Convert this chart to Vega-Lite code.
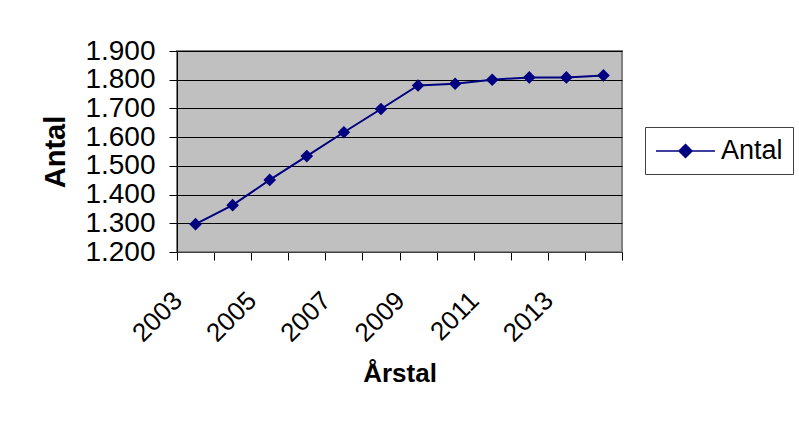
{
  "$schema": "https://vega.github.io/schema/vega-lite/v6.json",
  "width": 445,
  "height": 201,
  "autosize": {"type": "none"},
  "padding": {"left": 177, "top": 51, "right": 177, "bottom": 169},
  "background": "white",
  "config": {
    "font": "Liberation Sans",
    "view": {"fill": "#C0C0C0", "stroke": "#808080", "strokeWidth": 2}
  },
  "data": {
    "values": [
      {"Årstal": 2003, "Antal": 1297},
      {"Årstal": 2004, "Antal": 1363},
      {"Årstal": 2005, "Antal": 1451},
      {"Årstal": 2006, "Antal": 1534},
      {"Årstal": 2007, "Antal": 1617},
      {"Årstal": 2008, "Antal": 1698},
      {"Årstal": 2009, "Antal": 1780},
      {"Årstal": 2010, "Antal": 1786},
      {"Årstal": 2011, "Antal": 1800},
      {"Årstal": 2012, "Antal": 1808},
      {"Årstal": 2013, "Antal": 1808},
      {"Årstal": 2014, "Antal": 1815}
    ]
  },
  "mark": {
    "type": "line",
    "strokeWidth": 2,
    "point": {"shape": "diamond", "size": 160, "filled": true, "opacity": 1}
  },
  "encoding": {
    "x": {
      "field": "Årstal",
      "type": "quantitative",
      "scale": {"domain": [2002.5, 2014.5], "nice": false, "zero": false},
      "axis": {
        "title": "Årstal",
        "values": [2002.5, 2003.5, 2004.5, 2005.5, 2006.5, 2007.5, 2008.5, 2009.5, 2010.5, 2011.5, 2012.5, 2013.5, 2014.5],
        "labelExpr": "(datum.value - 2002.5) % 2 == 0 && datum.value < 2014 ? '' + (datum.value + 0.5) : ''",
        "labelOffset": -8.5,
        "labelAngle": -45,
        "labelOverlap": false,
        "labelFlush": false,
        "labelBound": false,
        "labelFontSize": 26,
        "labelColor": "black",
        "labelPadding": 27,
        "grid": false,
        "tickColor": "black",
        "tickSize": 8,
        "domainColor": "#404040",
        "domainWidth": 1,
        "titleFontSize": 26,
        "titleFontWeight": "bold",
        "titleColor": "black",
        "titleBaseline": "alphabetic",
        "titleY": 129
      }
    },
    "y": {
      "field": "Antal",
      "type": "quantitative",
      "scale": {"domain": [1200, 1900], "nice": false, "zero": false},
      "axis": {
        "title": "Antal",
        "values": [1200, 1300, 1400, 1500, 1600, 1700, 1800, 1900],
        "labelExpr": "replace(format(datum.value, ','), ',', '.')",
        "labelFontSize": 28,
        "labelColor": "black",
        "labelPadding": 14,
        "labelOverlap": false,
        "labelFlush": false,
        "labelBound": false,
        "grid": true,
        "gridColor": "black",
        "gridWidth": 1,
        "gridOpacity": 1,
        "tickColor": "black",
        "tickSize": 8,
        "domainColor": "black",
        "domainWidth": 1,
        "titleFontSize": 29,
        "titleFontWeight": "bold",
        "titleColor": "black",
        "titlePadding": 14
      }
    },
    "color": {
      "datum": "Antal",
      "scale": {"range": ["#000080"]},
      "legend": {
        "orient": "none",
        "legendX": 468,
        "legendY": 76,
        "title": null,
        "strokeColor": "#404040",
        "padding": 10,
        "symbolType": "M-1,0L3.54,0M1.27,-0.5L1.77,0L1.27,0.5L0.77,0Z",
        "symbolSize": 676,
        "symbolStrokeWidth": 1.5,
        "symbolFillColor": "#000080",
        "symbolStrokeColor": "#000080",
        "symbolOpacity": 1,
        "labelFontSize": 27,
        "labelColor": "black",
        "labelOffset": 38
      }
    }
  }
}
